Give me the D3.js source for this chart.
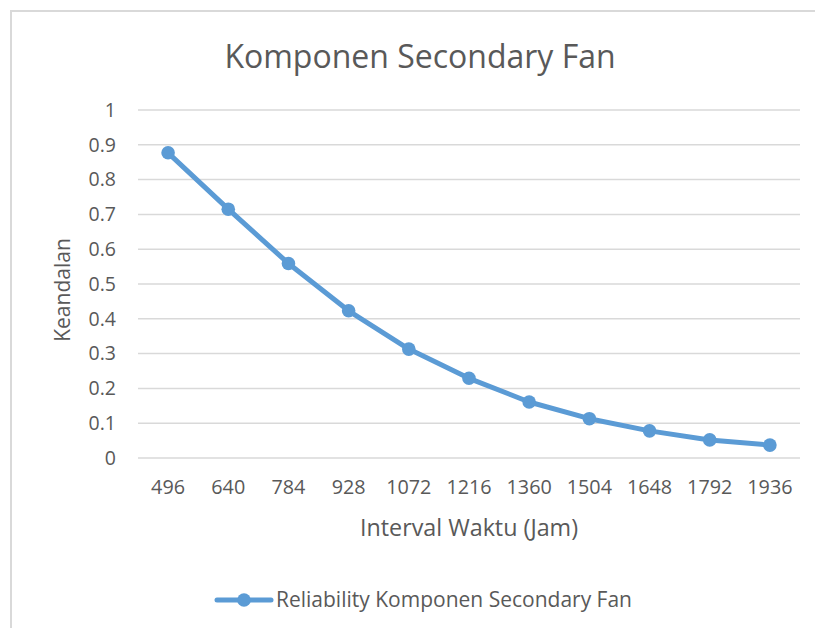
<!DOCTYPE html>
<html>
<head>
<meta charset="utf-8">
<script src="https://cdn.jsdelivr.net/npm/d3@7"></script>
<style>
  body { margin: 0; background: #fff; }
  text { font-family: "Open Sans", "Noto Sans", sans-serif; fill: #595959; }
</style>
</head>
<body>
<svg width="815" height="628"></svg>
<script>
const categories = ["496", "640", "784", "928", "1072", "1216", "1360", "1504", "1648", "1792", "1936"];
const reliability = [0.877, 0.715, 0.559, 0.423, 0.313, 0.229, 0.161, 0.113, 0.078, 0.052, 0.037];
const yTicks = [0, 0.1, 0.2, 0.3, 0.4, 0.5, 0.6, 0.7, 0.8, 0.9, 1];

const svg = d3.select('svg');
const blue = '#5B9BD5';

// chart frame (only top & left visible in the crop)
svg.append('path')
  .attr('d', 'M11,628 V11 H815')
  .attr('fill', 'none')
  .attr('stroke', '#d9d9d9')
  .attr('stroke-width', 2);

const plotLeft = 138, plotRight = 800, plotTop = 110, plotBottom = 458;

const x = d3.scaleBand().domain(categories).range([plotLeft, plotRight]);
const y = d3.scaleLinear().domain([0, 1]).range([plotBottom, plotTop]);

// gridlines
svg.append('g')
  .selectAll('line')
  .data(yTicks)
  .enter()
  .append('line')
  .attr('x1', plotLeft).attr('x2', plotRight)
  .attr('y1', d => y(d)).attr('y2', d => y(d))
  .attr('stroke', '#d9d9d9')
  .attr('stroke-width', 1.5);

// y axis labels
const yAxis = svg.append('g')
  .attr('transform', `translate(${plotLeft - 22},0)`)
  .call(d3.axisLeft(y).tickValues(yTicks).tickSize(0).tickPadding(0).tickFormat(d => d3.format('')(d)));
yAxis.select('.domain').remove();
yAxis.selectAll('text')
  .attr('font-size', 19.5)
  .attr('fill', '#595959')
  .attr('font-family', '"Open Sans", sans-serif');

// x axis labels
const xAxis = svg.append('g')
  .attr('transform', `translate(0,${plotBottom})`)
  .call(d3.axisBottom(x).tickSize(0).tickPadding(22));
xAxis.select('.domain').remove();
xAxis.selectAll('text')
  .attr('font-size', 19.8)
  .attr('fill', '#595959')
  .attr('font-family', '"Open Sans", sans-serif');

// series line
const line = d3.line()
  .x((d, i) => x(categories[i]) + x.bandwidth() / 2)
  .y(d => y(d));

svg.append('path')
  .datum(reliability)
  .attr('d', line)
  .attr('fill', 'none')
  .attr('stroke', blue)
  .attr('stroke-width', 5)
  .attr('stroke-linejoin', 'round');

svg.append('g')
  .selectAll('circle')
  .data(reliability)
  .enter()
  .append('circle')
  .attr('cx', (d, i) => x(categories[i]) + x.bandwidth() / 2)
  .attr('cy', d => y(d))
  .attr('r', 6.8)
  .attr('fill', blue);

// title
svg.append('text')
  .attr('x', 420).attr('y', 68)
  .attr('text-anchor', 'middle')
  .attr('font-size', 32)
  .text('Komponen Secondary Fan');

// axis titles
svg.append('text')
  .attr('transform', `translate(70,${(plotTop + plotBottom) / 2 + 6}) rotate(-90)`)
  .attr('text-anchor', 'middle')
  .attr('font-size', 21)
  .text('Keandalan');

svg.append('text')
  .attr('x', (plotLeft + plotRight) / 2).attr('y', 536)
  .attr('text-anchor', 'middle')
  .attr('font-size', 23.3)
  .text('Interval Waktu (Jam)');

// legend
const lg = svg.append('g').attr('transform', 'translate(0,600)');
lg.append('line')
  .attr('x1', 217).attr('x2', 271)
  .attr('stroke', blue).attr('stroke-width', 5).attr('stroke-linecap', 'round');
lg.append('circle').attr('cx', 244).attr('r', 6.8).attr('fill', blue);
lg.append('text')
  .attr('x', 276).attr('y', 7)
  .attr('font-size', 21)
  .text('Reliability Komponen Secondary Fan');
</script>
</body>
</html>
